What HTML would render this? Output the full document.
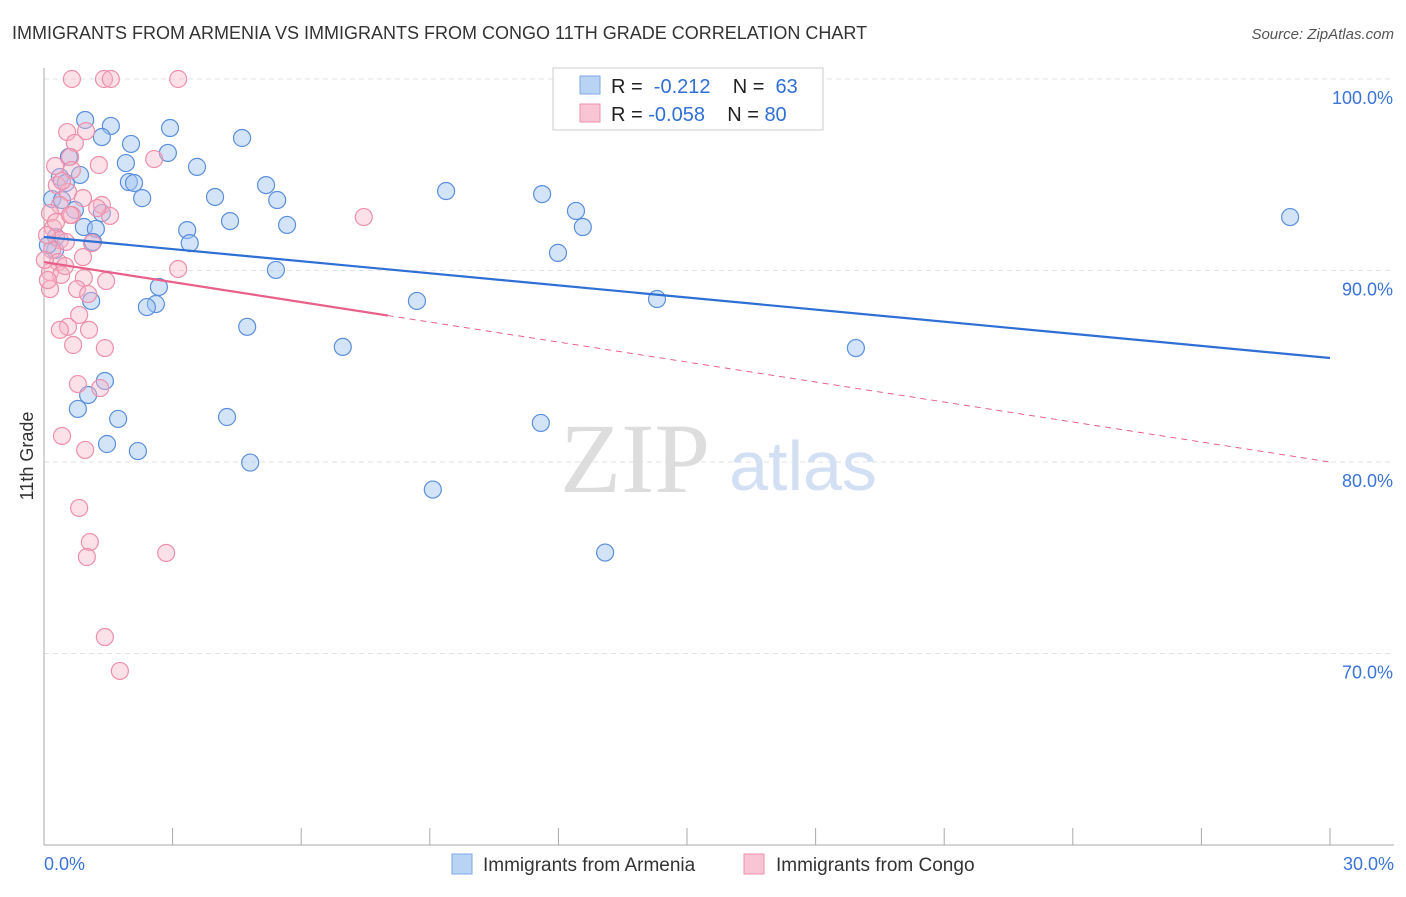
<!DOCTYPE html>
<html><head><meta charset="utf-8"><style>
body{margin:0;background:#fff;font-family:"Liberation Sans",sans-serif}
</style></head><body>
<svg id="chart" width="1406" height="892" viewBox="0 0 1406 892" xmlns="http://www.w3.org/2000/svg" font-family="Liberation Sans, sans-serif">
<text x="12" y="39" font-size="18" fill="#333">IMMIGRANTS FROM ARMENIA VS IMMIGRANTS FROM CONGO 11TH GRADE CORRELATION CHART</text>
<text x="1394" y="39" font-size="15" fill="#555" font-style="italic" text-anchor="end">Source: ZipAtlas.com</text>
<text x="33" y="456" font-size="18" fill="#333" text-anchor="middle" transform="rotate(-90 33 456)">11th Grade</text>
<g id="grid"></g>
<g id="axes"></g>
<g>
<text x="635" y="492" font-size="100" fill="#ddd" text-anchor="middle" style="font-family:'Liberation Serif',serif">ZIP</text>
<text x="803" y="490" font-size="70" fill="#d3e0f3" text-anchor="middle">atlas</text>
</g>
<g id="pts"></g>
<g id="lines"></g>
<g>
<rect x="553" y="68" width="270" height="62" fill="#fff" stroke="#ccc"/>
<rect x="580" y="76" width="20" height="18" fill="#b9d3f5" stroke="#7fa9e6"/>
<text x="611" y="93" font-size="20" fill="#222">R = <tspan fill="#2f6fd6">&#160;-0.212</tspan>&#160;&#160;&#160; N = <tspan fill="#2f6fd6">&#160;63</tspan></text>
<rect x="580" y="104" width="20" height="18" fill="#f9c4d3" stroke="#ee91ac"/>
<text x="611" y="121" font-size="20" fill="#222">R = <tspan fill="#2f6fd6">-0.058</tspan>&#160;&#160;&#160; N = <tspan fill="#2f6fd6">80</tspan></text>
</g>
<g>
<rect x="452" y="854" width="20" height="20" fill="#b9d3f5" stroke="#7fa9e6"/>
<text x="483" y="871" font-size="19" fill="#333">Immigrants from Armenia</text>
<rect x="744" y="854" width="20" height="20" fill="#f9c4d3" stroke="#ee91ac"/>
<text x="776" y="871" font-size="19" fill="#333">Immigrants from Congo</text>
</g>
</svg>
<script>
const yTicks=[100,90,80,70];
const yTickLabels=["100.0%","90.0%","80.0%","70.0%"];
const xTickLabels=["0.0%","30.0%"];
const armeniaX=[0.96,1.56,1.35,2.94,4.62,2.03,0.58,1.91,2.89,3.57,0.84,0.37,1.98,2.1,5.18,2.29,3.99,5.44,0.19,9.38,11.62,1.35,0.72,4.34,5.67,12.41,12.57,3.34,0.93,1.21,3.4,1.14,0.26,11.99,5.41,2.68,1.1,2.61,2.4,8.7,14.3,4.74,6.97,18.94,1.42,1.03,0.79,1.73,4.27,11.59,1.47,2.19,4.81,9.07,13.09,29.07,0.51,0.42,0.28,0.09];
const armeniaY=[97.86,97.55,96.97,97.44,96.92,96.61,95.93,95.61,96.14,95.41,94.99,94.88,94.62,94.57,94.46,93.78,93.84,93.68,93.73,94.15,93.99,93.0,93.16,92.58,92.38,93.11,92.27,92.11,92.27,92.17,91.43,91.49,91.07,90.92,90.03,89.14,88.41,88.25,88.09,88.41,88.51,87.06,86.01,85.95,84.23,83.5,82.77,82.25,82.35,82.04,80.94,80.57,79.97,78.56,75.27,92.79,94.57,93.68,91.75,91.33];
const congoX=[0.65,1.4,1.56,3.13,0.54,0.98,0.72,0.26,0.61,1.28,0.65,0.3,0.56,0.91,1.35,0.37,0.14,1.54,7.46,0.65,0.21,0.37,0.51,0.19,0.91,0.33,3.13,0.14,0.4,0.93,1.45,0.14,0.77,1.03,0.82,0.56,1.05,0.37,0.68,1.42,0.79,1.31,0.42,0.96,0.82,1.07,1.0,2.85,1.42,1.77,2.57,1.24,0.07,0.28,0.49,1.12,0.02,0.09,0.61,0.42];
const congoY=[100,100,100,100,97.23,97.28,96.66,95.46,95.93,95.51,95.25,94.46,94.1,93.78,93.42,93.42,93.0,92.85,92.79,92.9,92.22,91.59,91.49,91.07,90.7,90.44,90.08,89.92,89.77,89.61,89.45,89.03,89.03,88.77,87.68,87.06,86.9,86.9,86.11,85.95,84.07,83.86,81.36,80.63,77.6,75.82,75.04,75.25,70.86,69.09,95.82,93.26,91.85,92.53,90.23,91.43,90.55,89.5,92.9,94.67];
const armeniaTrend=[91.75,85.43];
const congoTrend=[90.44,80.0];
const congoSolidEnd=8.02;

const NS="http://www.w3.org/2000/svg";
const X0=44,X1=1330,Y100=79,PX10=191.5;
const sx=v=>X0+(v/30)*(X1-X0);
const sy=v=>Y100+(100-v)/10*PX10;
function mk(tag,attrs,parent){const e=document.createElementNS(NS,tag);for(const k in attrs)e.setAttribute(k,attrs[k]);parent.appendChild(e);return e;}
const grid=document.getElementById('grid'),axes=document.getElementById('axes');
yTicks.forEach((t,i)=>{
 const l=mk('line',{x1:X0,x2:1394,y1:sy(t),y2:sy(t),stroke:'#e2e2e2','stroke-dasharray':'5,4'},grid);
 
 
 const tx=mk('text',{x:1393,y:sy(t)+25,'font-size':18,fill:'#3a74d6','text-anchor':'end'},axes);
 tx.textContent=yTickLabels[i];
 
 
});
const ax=mk('line',{x1:X0,x2:X0,y1:68,y2:845,stroke:'#aaa'},axes);


const bx=mk('line',{x1:X0,x2:1394,y1:845,y2:845,stroke:'#aaa'},axes);


for(let i=0;i<=10;i++){const x=X0+i*(X1-X0)/10;const t=mk('line',{x1:x,x2:x,y1:828,y2:845,stroke:'#aaa'},axes);
 
 }
[[0,'start',X0],[30,'end',1394]].forEach((d,i)=>{const t=mk('text',{x:d[2],y:870,'font-size':18,fill:'#3a74d6','text-anchor':d[1]},axes);t.textContent=xTickLabels[i];
 
 });
const pts=document.getElementById('pts');
armeniaX.forEach((x,i)=>{const c=mk('circle',{cx:sx(x),cy:sy(armeniaY[i]),r:8.5,fill:'rgba(160,196,240,0.45)',stroke:'#5b8fdc','stroke-width':1.2},pts);
 
 });
congoX.forEach((x,i)=>{const c=mk('circle',{cx:sx(x),cy:sy(congoY[i]),r:8.5,fill:'rgba(248,180,200,0.4)',stroke:'#ee8fab','stroke-width':1.2},pts);
 
 });
const lines=document.getElementById('lines');
const bl=mk('line',{x1:sx(0),y1:sy(armeniaTrend[0]),x2:sx(30),y2:sy(armeniaTrend[1]),stroke:'#2e6fd6','stroke-width':2.2},lines);


const cAt=v=>congoTrend[0]+(congoTrend[1]-congoTrend[0])*v/30;
const pl=mk('line',{x1:sx(0),y1:sy(congoTrend[0]),x2:sx(congoSolidEnd),y2:sy(cAt(congoSolidEnd)),stroke:'#e8608a','stroke-width':2.2},lines);


const pd=mk('line',{x1:sx(congoSolidEnd),y1:sy(cAt(congoSolidEnd)),x2:sx(30),y2:sy(congoTrend[1]),stroke:'#e8608a','stroke-width':1,'stroke-dasharray':'6,5'},lines);


</script>
</body></html>
